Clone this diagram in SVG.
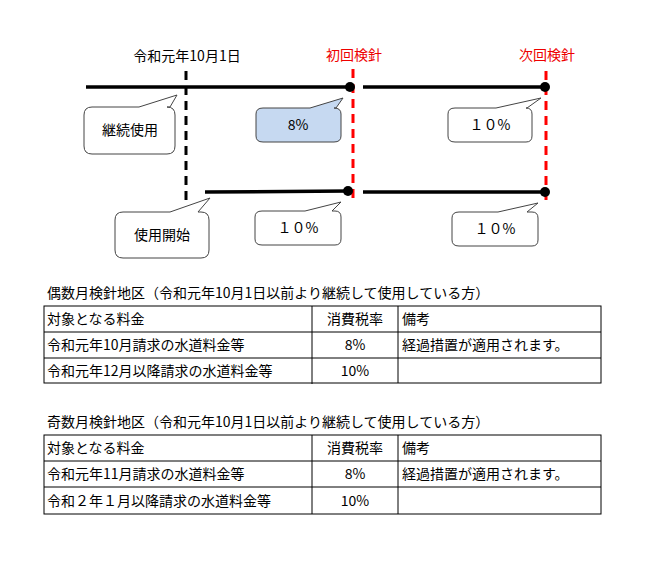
<svg xmlns="http://www.w3.org/2000/svg" width="654" height="568" viewBox="0 0 654 568">
<style>
text{font-family:"Noto Sans CJK JP","Noto Sans",sans-serif;font-size:14px;fill:#000}
.red{fill:#e00}
.c{text-anchor:middle}
.tl{stroke:#000;stroke-width:3.5}
.bd{stroke:#000;stroke-width:3;stroke-dasharray:9 6}
.rd{stroke:#f00;stroke-width:3;stroke-dasharray:9 6}
.co{fill:#fff;stroke:#444;stroke-width:1}
.grid{fill:none;stroke:#000;stroke-width:1}
</style>
<rect width="654" height="568" fill="#fff"/>
<g id="labels">
<text x="187" y="61" class="c">令和元年10月1日</text>
<text x="354" y="60" class="c red">初回検針</text>
<text x="547" y="60" class="c red">次回検針</text>
</g>
<g id="connectors">
<line class="tl" x1="86" y1="87" x2="351" y2="87"/>
<line class="tl" x1="363" y1="87" x2="546" y2="87"/>
<line class="tl" x1="205" y1="192" x2="349" y2="191"/>
<line class="tl" x1="363" y1="192" x2="546" y2="192"/>
<line class="bd" x1="186" y1="71" x2="186" y2="202"/>
<line class="rd" x1="353" y1="69" x2="353" y2="202"/>
<line class="rd" x1="546" y1="71" x2="546" y2="206"/>
<circle cx="350" cy="87" r="5"/><circle cx="545" cy="87" r="5"/>
<circle cx="348" cy="191" r="5"/><circle cx="545" cy="192" r="5"/>
</g>
<g id="callout-keizoku">
<path class="co" d="M92,107 H139 L177,95 L170,107 H167 Q175,107 175,115 V146 Q175,154 167,154 H92 Q84,154 84,146 V115 Q84,107 92,107 Z"/>
<text x="130" y="135" class="c">継続使用</text>
</g>
<g id="callout-8">
<path d="M263,108 H310 L343,98 L336,108 H334 Q341,108 341,114 V136 Q341,142 334,142 H263 Q256,142 256,136 V114 Q256,108 263,108 Z" fill="#c6d9f1" stroke="#444"/>
<text x="298" y="130" class="c">8%</text>
</g>
<g id="callout-10a">
<path class="co" d="M455,108 H496 L541,98 L527,108 H526 Q532,108 532,114 V136 Q532,142 526,142 H455 Q448,142 448,136 V114 Q448,108 455,108 Z"/>
<text x="490" y="130" class="c">１０%</text>
</g>
<g id="callout-shiyou">
<path class="co" d="M123,212 H170 L210,198 L198,212 H201 Q209,212 209,220 V250 Q209,258 201,258 H123 Q115,258 115,250 V220 Q115,212 123,212 Z"/>
<text x="162" y="240" class="c">使用開始</text>
</g>
<g id="callout-10b">
<path class="co" d="M262,211 H305 L341,202 L332,211 H335 Q341,211 341,217 V239 Q341,245 335,245 H262 Q255,245 255,239 V217 Q255,211 262,211 Z"/>
<text x="298" y="233" class="c">１０%</text>
</g>
<g id="callout-10c">
<path class="co" d="M459,212 H498 L538,203 L527,212 H532 Q538,212 538,218 V240 Q538,246 532,246 H459 Q452,246 452,240 V218 Q452,212 459,212 Z"/>
<text x="495" y="234" class="c">１０%</text>
</g>
<g id="table1">
<text x="47" y="298">偶数月検針地区（令和元年10月1日以前より継続して使用している方）</text>
<rect class="grid" x="44" y="306" width="557" height="77"/>
<line class="grid" x1="44" y1="332" x2="601" y2="332"/>
<line class="grid" x1="44" y1="358" x2="601" y2="358"/>
<line class="grid" x1="312" y1="306" x2="312" y2="384"/>
<line class="grid" x1="398" y1="306" x2="398" y2="383"/>
<text x="47" y="324">対象となる料金</text>
<text x="355" y="324" class="c">消費税率</text>
<text x="402" y="324">備考</text>
<text x="47" y="350">令和元年10月請求の水道料金等</text>
<text x="355" y="350" class="c">8%</text>
<text x="402" y="350">経過措置が適用されます。</text>
<text x="47" y="376">令和元年12月以降請求の水道料金等</text>
<text x="355" y="376" class="c">10%</text>
</g>
<g id="table2">
<text x="47" y="427">奇数月検針地区（令和元年10月1日以前より継続して使用している方）</text>
<rect class="grid" x="44" y="435" width="557" height="79"/>
<line class="grid" x1="44" y1="461" x2="601" y2="461"/>
<line class="grid" x1="44" y1="487" x2="601" y2="487"/>
<line class="grid" x1="312" y1="435" x2="312" y2="514"/>
<line class="grid" x1="398" y1="435" x2="398" y2="514"/>
<text x="47" y="453">対象となる料金</text>
<text x="355" y="453" class="c">消費税率</text>
<text x="402" y="453">備考</text>
<text x="47" y="479">令和元年11月請求の水道料金等</text>
<text x="355" y="479" class="c">8%</text>
<text x="402" y="479">経過措置が適用されます。</text>
<text x="47" y="506">令和２年１月以降請求の水道料金等</text>
<text x="355" y="506" class="c">10%</text>
</g>
</svg>
